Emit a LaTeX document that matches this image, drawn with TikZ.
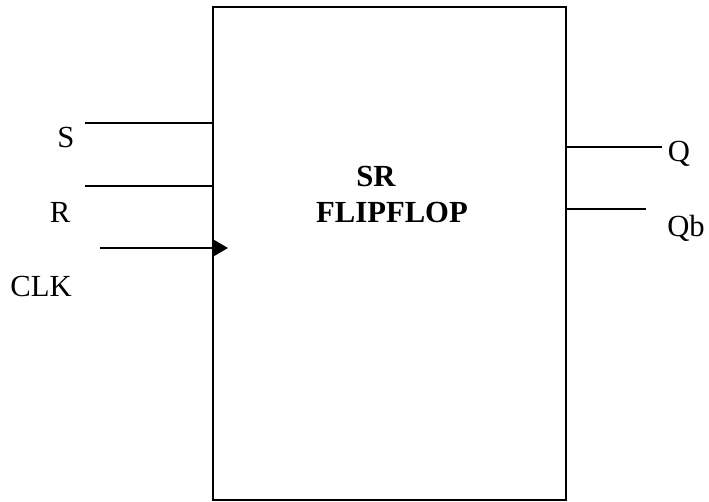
\documentclass[tikz,border=0pt]{standalone}
\usepackage{fontspec}
\setmainfont{Liberation Serif}
\usetikzlibrary{arrows.meta}
\begin{document}
\begin{tikzpicture}[x=0.75pt,y=-0.75pt,
  wire/.style={line width=1.5pt},
  pinlabel/.style={anchor=base,inner sep=0pt,font=\fontsize{23}{27}\selectfont},
  blocktitle/.style={anchor=base,inner sep=0pt,font=\fontsize{23}{27}\selectfont\bfseries},
  blockbox/.style={draw,line width=1.5pt,minimum width=353*0.75pt,minimum height=493*0.75pt,inner sep=0pt}]
\useasboundingbox (0,0) rectangle (709,502);

% flip-flop body
\node[blockbox] (box) at (389.5,253.5) {};
\node[blocktitle] (t1) at (376,186) {SR};
\node[blocktitle] (t2) at (392,223) {FLIPFLOP};

% inputs
\coordinate (sin) at (85,123);
\coordinate (rin) at (85,186);
\coordinate (clkin) at (100,248);
\coordinate (clktip) at (228,248);
\draw[wire] (sin) -- (sin -| box.west);
\draw[wire] (rin) -- (rin -| box.west);
\draw[wire,-{Triangle[length=11.25pt,width=12.75pt]}] (clkin) -- (clktip);

\node[pinlabel] (ls) at (66,148) {S};
\node[pinlabel] (lr) at (60,222) {R};
\node[pinlabel] (lclk) at (41,296) {CLK};

% outputs
\coordinate (qout) at (662,147);
\coordinate (qbout) at (646,209);
\draw[wire] (qout -| box.east) -- (qout);
\draw[wire] (qbout -| box.east) -- (qbout);

\node[pinlabel] (lq) at (679,162) {Q};
\node[pinlabel] (lqb) at (686,236) {Qb};
\end{tikzpicture}
\end{document}
